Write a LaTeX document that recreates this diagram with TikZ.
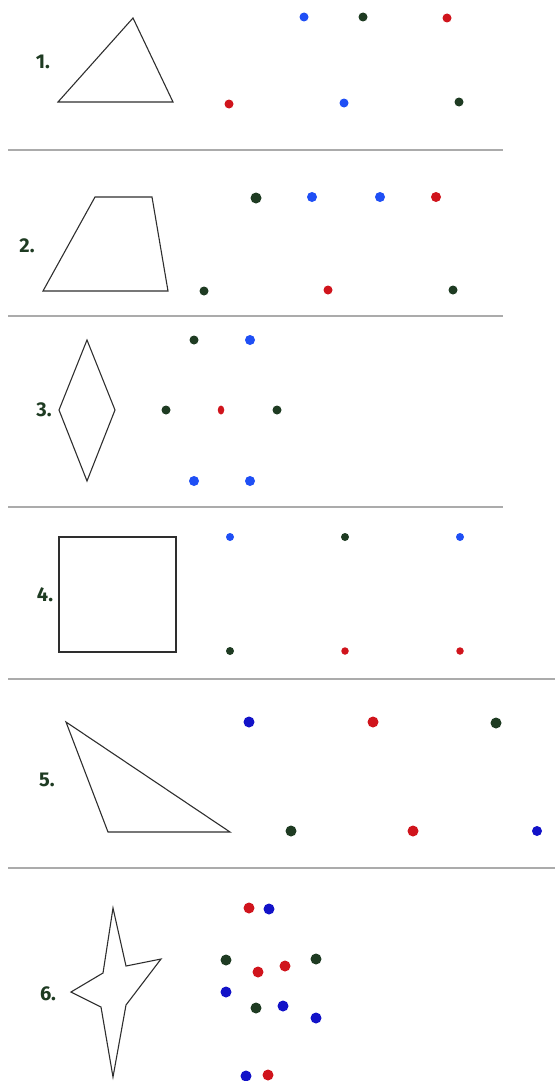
\documentclass[tikz,border=0pt]{standalone}
\usepackage{fontspec}
\setsansfont{Fira Sans}
\usepackage{xcolor}
\usetikzlibrary{shapes.geometric}
\definecolor{ink}{HTML}{2E2E2E}
\definecolor{rulegray}{HTML}{ABABAB}
\definecolor{dkgreen}{HTML}{1E3B22}
\definecolor{blue}{HTML}{1F4FF5}
\definecolor{deepblue}{HTML}{1212C8}
\definecolor{red}{HTML}{D0141C}
\tikzset{
  num/.style={font=\sffamily\bfseries\fontsize{20}{20}\selectfont,text=dkgreen,inner sep=0pt},
  outline/.style={draw=ink,line width=1.1pt,line join=miter},
  divider/.style={draw=rulegray,line width=1.5pt},
  dot/.style={circle,inner sep=0pt,minimum size=9pt},
  gdot/.style={dot,fill=dkgreen},
  bdot/.style={dot,fill=blue},
  rdot/.style={dot,fill=red},
  big/.style={minimum size=11pt},
  small/.style={minimum size=7.5pt}
}

\begin{document}
\begin{tikzpicture}[x=1pt,y=-1pt]
\useasboundingbox (0,0) rectangle (555,1081);

% 1. triangle
\node[num] (n1) at (43,62) {1.};
\draw[outline] (58,102) -- (133,18) -- (173,102) -- cycle;
\node[bdot] (a1) at (304,17) {};
\node[gdot] (a2) at (363,17) {};
\node[rdot] (a3) at (447,18) {};
\node[rdot] (a4) at (229,104) {};
\node[bdot] (a5) at (344,103) {};
\node[gdot] (a6) at (459,102) {};
\draw[divider] (8,150) -- (503,150);

% 2. trapezoid
\node[num] (n2) at (27,246) {2.};
\draw[outline] (43,291) -- (95,197) -- (152,197) -- (168,291) -- cycle;
\node[gdot,big] (b1) at (256,198) {};
\node[bdot,minimum size=10pt] (b2) at (312,197) {};
\node[bdot,minimum size=10pt] (b3) at (380,197) {};
\node[rdot,minimum size=10pt] (b4) at (436,197) {};
\node[gdot] (b5) at (204,291) {};
\node[rdot] (b6) at (328,290) {};
\node[gdot] (b7) at (453,290) {};
\draw[divider] (8,316) -- (503,316);

% 3. rhombus
\node[num] (n3) at (44,410) {3.};
\draw[outline] (87,340) -- (115,410) -- (87,481) -- (59,410) -- cycle;
\node[gdot] (c1) at (194,340) {};
\node[bdot,minimum size=10pt] (c2) at (250,340) {};
\node[gdot] (c3) at (166,410) {};
\node[ellipse,inner sep=0pt,minimum width=6.5pt,minimum height=9pt,fill=red] (c4) at (221,410) {};
\node[gdot] (c5) at (277,410) {};
\node[bdot,minimum size=10pt] (c6) at (194,481) {};
\node[bdot,minimum size=10pt] (c7) at (250,481) {};
\draw[divider] (8,507) -- (503,507);

% 4. square
\node[num] (n4) at (45,595) {4.};
\draw[outline] (59,537) rectangle (176,652);
\node[bdot,minimum size=8pt] (d1) at (230,537) {};
\node[gdot,minimum size=8pt] (d2) at (345,537) {};
\node[bdot,minimum size=8pt] (d3) at (460,537) {};
\node[gdot,minimum size=8pt] (d4) at (230,651) {};
\node[rdot,small] (d5) at (345,651) {};
\node[rdot,small] (d6) at (460,651) {};
\draw[divider] (8,679) -- (555,679);

% 5. obtuse triangle
\node[num] (n5) at (47,780) {5.};
\draw[outline] (66,722) -- (230,832) -- (108,832) -- cycle;
\node[dot,big,fill=deepblue] (e1) at (249,722) {};
\node[rdot,big] (e2) at (373,722) {};
\node[gdot,big] (e3) at (496,723) {};
\node[gdot,big] (e4) at (291,831) {};
\node[rdot,big] (e5) at (413,831) {};
\node[dot,minimum size=10pt,fill=deepblue] (e6) at (537,831) {};
\draw[divider] (8,868) -- (555,868);

% 6. star
\node[num] (n6) at (48,994) {6.};
\draw[outline] (113,908) -- (126,966) -- (161,959) -- (126,1005) -- (113,1077)
  -- (101,1007) -- (71,992) -- (103,973) -- cycle;
\node[rdot,big] (f1) at (249,908) {};
\node[dot,big,fill=deepblue] (f2) at (269,909) {};
\node[gdot,big] (f3) at (226,960) {};
\node[rdot,big] (f4) at (258,972) {};
\node[rdot,big] (f5) at (285,966) {};
\node[gdot,big] (f6) at (316,959) {};
\node[dot,big,fill=deepblue] (f7) at (226,992) {};
\node[gdot,big] (f8) at (256,1008) {};
\node[dot,big,fill=deepblue] (f9) at (283,1006) {};
\node[dot,big,fill=deepblue] (f10) at (316,1018) {};
\node[dot,big,fill=deepblue] (f11) at (246,1076) {};
\node[rdot,big] (f12) at (268,1075) {};
\end{tikzpicture}
\end{document}
